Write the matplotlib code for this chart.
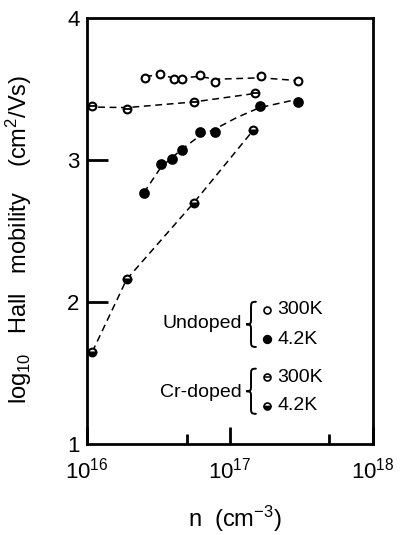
import numpy as np
import matplotlib
matplotlib.use("Agg")
import matplotlib.pyplot as plt
from matplotlib.ticker import FixedLocator, NullFormatter
from matplotlib.path import Path
from matplotlib.patches import PathPatch

plt.rcParams['font.family'] = ['Liberation Sans', 'DejaVu Sans']
plt.rcParams['mathtext.fontset'] = 'custom'
plt.rcParams['mathtext.rm'] = 'Liberation Sans'
plt.rcParams['mathtext.it'] = 'Liberation Sans'

# log10(n) values and log10(mobility)
undoped_300_logn = [16.41, 16.51, 16.61, 16.67, 16.79, 16.90, 17.22, 17.48]
undoped_300_mu   = [3.58, 3.61, 3.57, 3.57, 3.60, 3.55, 3.59, 3.56]
undoped_42_logn  = [16.40, 16.52, 16.60, 16.67, 16.79, 16.90, 17.21, 17.48]
undoped_42_mu    = [2.77, 2.97, 3.01, 3.07, 3.20, 3.20, 3.38, 3.41]
cr_300_logn      = [16.035, 16.28, 16.75, 17.18]
cr_300_mu        = [3.38, 3.36, 3.41, 3.47]
cr_42_logn       = [16.04, 16.28, 16.75, 17.165]
cr_42_mu         = [1.65, 2.16, 2.70, 3.21]

# hand-drawn guide curves
g_u300_logn = [16.41, 16.51, 16.61, 16.67, 16.79, 16.90, 17.22, 17.48]
g_u300_mu   = [3.59, 3.60, 3.58, 3.58, 3.59, 3.57, 3.58, 3.56]
g_u42_logn  = [16.40, 16.52, 16.60, 16.67, 16.79, 16.90, 17.05, 17.21, 17.48]
g_u42_mu    = [2.77, 2.95, 3.02, 3.08, 3.17, 3.22, 3.30, 3.37, 3.43]
g_cr300_logn = [16.0, 16.28, 16.75, 17.18]
g_cr300_mu   = [3.375, 3.37, 3.41, 3.47]
g_cr42_logn = [16.04, 16.28, 16.75, 17.165]
g_cr42_mu   = [1.65, 2.16, 2.70, 3.21]

fig = plt.figure(figsize=(4.01, 5.35), dpi=100)
ax = fig.add_axes([0.216, 0.170, 0.713, 0.796])

def n(v):
    return 10 ** np.asarray(v)

dash = (0, (4.5, 3))
for gx, gy in [(g_u300_logn, g_u300_mu), (g_u42_logn, g_u42_mu),
               (g_cr300_logn, g_cr300_mu), (g_cr42_logn, g_cr42_mu)]:
    ax.plot(n(gx), gy, color='black', lw=1.1, linestyle=dash, zorder=1)

ms = 5.6
mew = 1.5
ax.plot(n(undoped_300_logn), undoped_300_mu, 'o', ms=ms, mfc='white', mec='black', mew=mew, zorder=3)
ax.plot(n(undoped_42_logn), undoped_42_mu, 'o', ms=ms + 0.6, mfc='black', mec='black', mew=mew, zorder=3)
ax.plot(n(cr_300_logn), cr_300_mu, 'o', ms=ms, mfc='white', mec='black', mew=mew, zorder=3)
ax.plot(n(cr_300_logn), cr_300_mu, '_', ms=ms, mec='black', mew=1.3, zorder=4)
ax.plot(n(cr_42_logn), cr_42_mu, 'o', ms=ms, fillstyle='bottom', mfc='black',
        mfcalt='white', mec='black', mew=mew, zorder=3)

ax.set_xscale('log')
ax.set_xlim(1e16, 1e18)
ax.set_ylim(1, 4)

for s in ax.spines.values():
    s.set_linewidth(2.0)

ax.xaxis.set_major_locator(FixedLocator([1e16, 1e17, 1e18]))
ax.xaxis.set_minor_locator(FixedLocator([5e16, 5e17]))
ax.xaxis.set_minor_formatter(NullFormatter())
ax.set_xticklabels([r'$10^{16}$', r'$10^{17}$', r'$10^{18}$'])
ax.tick_params(axis='x', which='major', direction='in', length=12, width=2,
               labelsize=16, pad=10)
ax.tick_params(axis='x', which='minor', direction='in', length=7, width=2)

ax.set_yticks([1, 2, 3, 4])
ax.set_yticklabels(['1', '2', '3', '4'])
ax.tick_params(axis='y', which='major', direction='in', length=15, width=2,
               labelsize=16, pad=5)
for t in ax.yaxis.get_major_ticks():
    if t.get_loc() in (1, 4):
        t.tick1line.set_visible(False)
        t.tick2line.set_visible(False)
ax.tick_params(axis='both', which='both', top=False, right=False)

ax.set_ylabel(r'log$_{10}$   Hall   mobility    (cm$^2$/Vs)', fontsize=17)
ax.yaxis.set_label_coords(-0.184, 0.48)
ax.set_xlabel(r'n  (cm$^{-3}$)', fontsize=17)
ax.xaxis.set_label_coords(0.52, -0.14)


def brace(cx, cy, h, w):
    """thin left curly brace drawn in axes coordinates"""
    xl, xm, xr = cx - w / 2, cx, cx + w / 2
    verts = [(xr, cy + h),
             (xm, cy + h), (xm, cy + 0.95 * h), (xm, cy + 0.7 * h),
             (xm, cy + 0.25 * h),
             (xm, cy + 0.05 * h), (xm, cy), (xl, cy),
             (xm, cy), (xm, cy - 0.05 * h), (xm, cy - 0.25 * h),
             (xm, cy - 0.7 * h),
             (xm, cy - 0.95 * h), (xm, cy - h), (xr, cy - h)]
    codes = [Path.MOVETO,
             Path.CURVE4, Path.CURVE4, Path.CURVE4,
             Path.LINETO,
             Path.CURVE4, Path.CURVE4, Path.CURVE4,
             Path.CURVE4, Path.CURVE4, Path.CURVE4,
             Path.LINETO,
             Path.CURVE4, Path.CURVE4, Path.CURVE4]
    ax.add_patch(PathPatch(Path(verts, codes), transform=ax.transAxes,
                           fill=False, lw=1.4, ec='black', capstyle='round'))

# legend block
fs = 14
ax.text(0.543, 0.284, 'Undoped', transform=ax.transAxes, ha='right', va='center', fontsize=fs)
brace(0.575, 0.281, 0.053, 0.034)
ax.plot([0.631], [0.315], 'o', transform=ax.transAxes, ms=5, mfc='white', mec='black', mew=1.2)
ax.plot([0.631], [0.246], 'o', transform=ax.transAxes, ms=5.5, mfc='black', mec='black', mew=1.2)
ax.text(0.668, 0.315, '300K', transform=ax.transAxes, ha='left', va='center', fontsize=fs)
ax.text(0.668, 0.246, '4.2K', transform=ax.transAxes, ha='left', va='center', fontsize=fs)

ax.text(0.543, 0.122, 'Cr-doped', transform=ax.transAxes, ha='right', va='center', fontsize=fs)
brace(0.575, 0.124, 0.053, 0.034)
ax.plot([0.631], [0.157], 'o', transform=ax.transAxes, ms=5, mfc='white', mec='black', mew=1.2)
ax.plot([0.631], [0.157], '_', transform=ax.transAxes, ms=5, mec='black', mew=1.1)
ax.plot([0.631], [0.090], 'o', transform=ax.transAxes, ms=5, fillstyle='bottom', mfc='black',
        mfcalt='white', mec='black', mew=1.2)
ax.text(0.668, 0.157, '300K', transform=ax.transAxes, ha='left', va='center', fontsize=fs)
ax.text(0.668, 0.090, '4.2K', transform=ax.transAxes, ha='left', va='center', fontsize=fs)

fig.savefig('out.png', dpi=100)
